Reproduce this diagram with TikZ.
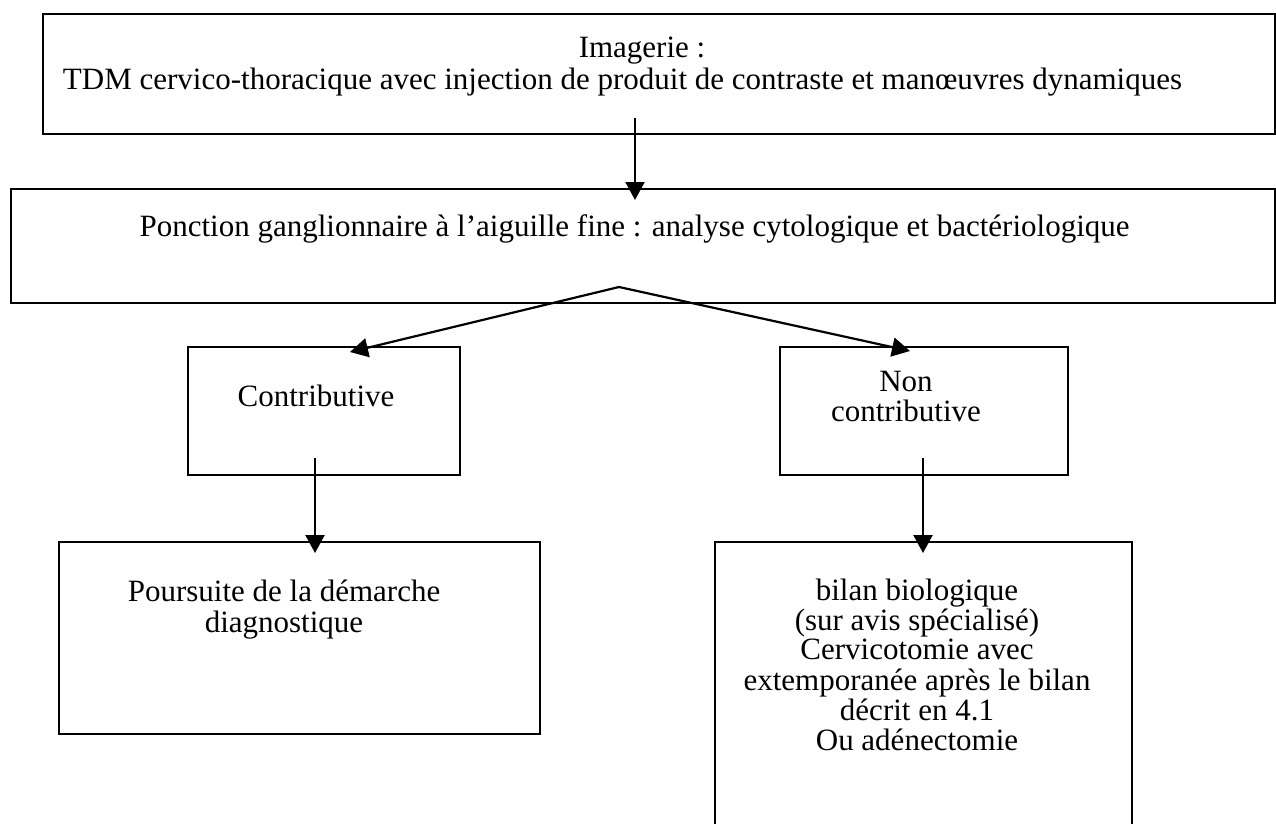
\documentclass[tikz,border=0pt]{standalone}
\usepackage{fontspec}
\setmainfont{Liberation Serif}
\usetikzlibrary{arrows.meta}
\begin{document}
\begin{tikzpicture}[x=1pt,y=-1pt,
  box/.style={draw=black, line width=2.4pt, rectangle, inner sep=0pt, anchor=north west},
  txt/.style={inner sep=0pt, anchor=base, font=\fontsize{31}{29.5}\selectfont},
  arr/.style={line width=2.2pt, -{Triangle[length=18pt,width=19pt]}}]
\useasboundingbox (0,0) rectangle (1276,823);
\clip (0,0) rectangle (1276,823);
\fill[white] (0,0) rectangle (1276,823);
% boxes
\node[box, minimum width=1232pt, minimum height=120pt] (b1) at (42,13) {};
\node[box, minimum width=1264pt, minimum height=114pt] (b2) at (10,188) {};
\node[box, minimum width=272pt, minimum height=128pt] (b3) at (187,346) {};
\node[box, minimum width=288pt, minimum height=128pt] (b4) at (779,346) {};
\node[box, minimum width=481pt, minimum height=192pt] (b5) at (58,541) {};
\node[box, minimum width=417pt, minimum height=320pt] (b6) at (714,541) {};
% texts
\node[txt] (t1a) at (642,57) {Imagerie :};
\node[txt] (t1b) at (622.5,89) {TDM cervico-thoracique avec injection de produit de contraste et manœuvres dynamiques};
\node[txt] (t2) at (634.5,236) {Ponction ganglionnaire à l’aiguille fine : analyse cytologique et bactériologique};
\node[txt] (t3) at (316,406) {Contributive};
\node[txt, font=\fontsize{31}{30}\selectfont] (t4) at (906,391) {\begin{tabular}[t]{@{}c@{}}Non\\contributive\end{tabular}};
\node[txt, font=\fontsize{31}{31}\selectfont] (t5) at (284,601) {\begin{tabular}[t]{@{}c@{}}Poursuite de la démarche\\diagnostique\end{tabular}};
\node[txt, font=\fontsize{31}{29.4}\selectfont] (t6) at (917,600) {\begin{tabular}[t]{@{}c@{}}bilan biologique\\(sur avis spécialisé)\\Cervicotomie avec\\extemporanée après le bilan\\décrit en 4.1\\Ou adénectomie\end{tabular}};
% connector ends
\coordinate (s1) at (635,118);
\coordinate (e1) at (635,200);
\coordinate (sp) at (619,287);
\coordinate (e2) at (350,352);
\coordinate (e3) at (910,351);
\coordinate (s4) at (315,458);
\coordinate (e4) at (315,553);
\coordinate (s5) at (923,458);
\coordinate (e5) at (923,553);
% connectors
\draw[arr] (s1) -- (e1);
\draw[arr] (sp) -- (e2);
\draw[arr] (sp) -- (e3);
\draw[arr] (s4) -- (e4);
\draw[arr] (s5) -- (e5);
\end{tikzpicture}
\end{document}
